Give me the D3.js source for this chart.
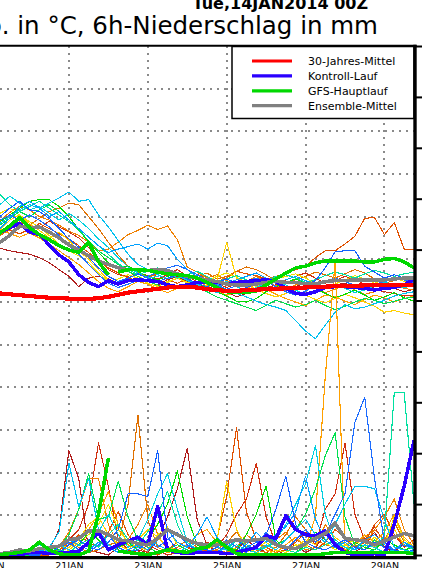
<!DOCTYPE html>
<html lang="de">

<head>
  <meta charset="utf-8">
  <title>GFS Ensemble</title>
  <script src="https://d3js.org/d3.v7.min.js" charset="utf-8"></script>
  <style type="text/css">
    html, body { margin: 0; padding: 0; background: #fff; overflow: hidden; }
    svg { display: block; }
  </style>
</head>

<body>
  <svg id="chart" width="422" height="568" xmlns="http://www.w3.org/2000/svg"></svg>
  <script type="text/javascript">
    // 6-hourly steps, step 0 = 19JAN (everything before is cut off on the left)
    var tickSteps = [-16, -8, 0, 8, 16, 24, 32, 40];
    var tickLabels = ['15JAN', '17JAN', '19JAN', '21JAN', '23JAN', '25JAN', '27JAN', '29JAN'];
    var tempTicks = [-35, -30, -25, -20, -15, -10, -5, 0, 5, 10, 15, 20, 25];
    var precipTicks = [0, 2, 4, 6, 8, 10, 12, 14, 16, 18, 20];
    var mainBreak = 12; // GFS run has a gap at the resolution change

    var legendNames = ['30-Jahres-Mittel', 'Kontroll-Lauf', 'GFS-Hauptlauf', 'Ensemble-Mittel'];
    var legendColors = ['#ff0000', '#2a00ff', '#00d800', '#808080'];

    var climTemp = [-3.9, -4.0, -4.1, -4.2, -4.3, -4.4, -4.5, -4.55, -4.6, -4.65, -4.65,
      -4.55, -4.4, -4.15, -3.9, -3.75, -3.6, -3.45, -3.3, -3.2, -3.25,
      -3.3, -3.5, -3.6, -3.7, -3.7, -3.6, -3.55, -3.5, -3.45, -3.4,
      -3.35, -3.3, -3.25, -3.2, -3.15, -3.1, -3.1, -3.05, -3.0, -3.0, -3.0, -3.0, -3.0];
    var controlTemp = [3.2, 3.1, 3.7, 4.2, 3.2, 2.9, 1.7, 0.5, -0.3, -1.8, -2.7,
      -3.2, -2.5, -2.9, -2.5, -2.4, -2.5, -2.6, -3.0, -3.2, -3.0,
      -2.7, -2.7, -2.7, -2.9, -2.7, -2.6, -2.5, -2.4, -2.6, -3.4,
      -4.0, -4.1, -3.8, -3.3, -3.2, -3.2, -3.3, -3.4, -3.6, -3.4, -3.3, -3.0, -2.3];
    var mainTemp = [3.1, 3.1, 3.9, 4.9, 3.7, 2.9, 2.3, 1.6, 1.1, 0.8, 2.0,
      -0.3, -1.8, -1.5, -1.2, -1.2, -1.3, -1.5, -1.7, -1.8, -1.9,
      -2.2, -2.7, -3.3, -3.8, -3.9, -3.9, -3.7, -3.0, -2.3, -1.6,
      -1.0, -0.8, -0.4, -0.2, -0.2, -0.2, -0.2, -0.3, -0.3, 0.0, 0.1, -0.3, -1.0];
    var meanTemp = [1.7, 2.0, 2.8, 3.9, 3.7, 3.8, 3.2, 2.5, 1.7, 1.1, 0.4,
      -0.2, -0.6, -1.0, -1.2, -1.2, -1.3, -1.2, -1.3, -1.7, -2.0,
      -2.2, -2.4, -2.6, -2.9, -3.0, -3.0, -2.9, -2.7, -2.6, -2.7,
      -2.7, -2.9, -2.9, -2.6, -2.5, -2.5, -2.4, -2.4, -2.4, -2.4, -2.3, -2.2, -2.2];

    var controlPrecip = [0.05, 0, 0, 0, 0.1, 0.1, 0.05, 0.1, 0.1, 0.15, 0.5,
      0.9, 0.2, 0.4, 0.55, 0.7, 0.4, 1.9, 0.2, 0.1, 0.05,
      0.1, 0.1, 0.1, 0.05, 0.1, 0.2, 0.3, 0.75, 0.65, 1.55,
      1.0, 0.8, 0.75, 0.95, 0.4, 0.1, 0, 0, 0.05, 0, 1.2, 2.7, 4.5];
    var mainPrecip = [0, 0.02, 0.05, 0.1, 0.2, 0.5, 0.2, 0.05, 0, 0, 0.15,
      1.6, 3.8, 0.15, 0.1, 0.05, 0.02, 0.1, 0.2, 0.15, 0.1,
      0.25, 0.3, 0.6, 0.3, 0.05, 0, 0, 0, 0, 0,
      0, 0, 0, 0.05, 0.1, 0.1, 0.1, 0.1, 0.1, 0.1, 0.1, 0.1, 0.05];
    var meanPrecip = [0.05, 0.05, 0.1, 0.2, 0.15, 0.25, 0.3, 0.35, 0.6, 0.65, 0.95,
      0.95, 0.8, 0.6, 0.55, 0.45, 0.4, 0.65, 1.0, 0.8, 0.6,
      0.45, 0.4, 0.4, 0.5, 0.6, 0.55, 0.6, 0.65, 0.4, 0.3,
      0.25, 0.45, 0.65, 0.85, 1.25, 0.65, 0.6, 0.55, 0.4, 0.55, 0.7, 0.85, 0.75];

    var memberColors = ['#b01c1c', '#d03010', '#e05000', '#f08000', '#e07000', '#ffa000', '#ffd000', '#f0e000',
      '#00dc00', '#00e050', '#00e0a0', '#00c0f0', '#00d0e0', '#00a0ff', '#1060ff', '#1c6cff'];

    var memberTemp = [
      [1.5, 1.3, 1.0, 0.8, 0.6, 0.2, -0.4, -1.2, -2.0, -3.2, -2.2, -2.0, -2.3, -2.8, -2.5, -2.2, -2.6, -3.0, -2.4, -2.0, -2.6, -3.4, -3.0, -3.2, -3.8, -4.4, -4.0, -3.6, -3.3, -3.0, -3.5, -3.2, -2.7, -3.0, -3.4, -3.0, -2.8, -3.3, -3.6, -3.2, -2.9, -3.4, -3.8, -3.5],
      [3.0, 3.4, 3.8, 4.3, 4.0, 3.6, 4.5, 3.8, 3.2, 2.5, 1.4, 0.0, -1.2, -1.8, -2.0, -1.6, -1.9, -2.3, -1.8, -1.2, -2.0, -2.6, -2.2, -2.8, -3.3, -2.9, -2.5, -3.0, -3.4, -3.0, -2.4, -2.0, -1.6, -2.2, -2.8, -2.5, -2.0, -2.4, -2.9, -3.5, -3.8, -4.0, -4.3, -4.2],
      [2.6, 2.9, 3.4, 3.0, 3.5, 4.2, 3.6, 3.0, 2.4, 1.6, 0.8, -0.2, -1.0, -1.6, -2.2, -2.5, -2.0, -1.8, -2.4, -2.8, -2.3, -1.8, -2.1, -2.6, -2.2, -1.4, -1.7, -1.9, -2.3, -2.0, -1.6, -1.2, -0.8, 0.2, 1.0, 1.0, 1.8, 2.7, 4.8, 4.9, 2.9, 4.3, 1.2, 1.2],
      [3.8, 4.5, 5.5, 6.2, 5.8, 5.0, 4.6, 4.0, 3.3, 2.8, 2.0, 1.0, 1.2, 2.0, 2.9, 3.4, 4.0, 3.5, 3.9, 2.3, -0.9, -1.5, -2.2, -1.8, -2.5, -3.0, -2.6, -2.0, -2.6, -3.1, -3.6, -3.0, -2.5, -3.2, -3.9, -3.5, -3.0, -3.6, -4.1, -3.8, -3.3, -3.0, -3.4, -3.6],
      [2.2, 2.8, 3.5, 4.4, 4.0, 4.8, 5.6, 6.0, 6.6, 6.4, 5.0, 3.6, 2.0, 0.5, -0.8, -1.5, -2.1, -1.7, -1.3, -1.9, -2.4, -2.0, -1.6, -2.3, -2.0, -1.4, -0.9, -1.2, -1.8, -2.5, -2.9, -2.4, -2.0, -1.5, -1.8, -2.2, -1.7, -1.2, -1.6, -2.3, -2.8, -2.5, -2.2, -2.6],
      [3.2, 3.6, 3.0, 2.6, 3.1, 2.5, 1.8, 1.0, 0.2, -0.6, -1.6, -2.6, -3.4, -3.8, -3.2, -2.6, -2.9, -3.5, -3.9, -3.4, -2.8, -2.6, -3.1, -3.7, -4.2, -3.9, -3.4, -3.0, -3.5, -4.1, -4.6, -5.0, -5.4, -4.8, -4.2, -4.4, -4.9, -5.3, -4.7, -4.2, -4.5, -5.0, -4.6, -4.3],
      [4.0, 3.4, 4.6, 5.2, 4.2, 3.4, 2.5, 3.2, 2.2, 1.0, 0.0, -1.2, -2.4, -3.0, -2.6, -2.0, -2.5, -3.1, -2.7, -2.2, -2.8, -3.4, -3.0, -2.6, 2.0, -2.2, -3.0, -3.5, -4.0, -4.4, -4.0, -3.6, -4.2, -4.7, -5.1, -4.6, -4.1, -4.5, -5.0, -5.5, -6.2, -6.0, -6.3, -6.5],
      [4.6, 5.4, 6.0, 5.2, 4.4, 3.8, 2.8, 1.8, 1.0, 0.4, -0.4, -1.6, -2.6, -2.3, -1.8, -2.2, -2.8, -3.2, -2.6, -2.2, -2.7, -3.1, -2.6, -2.0, -1.6, -2.1, -2.7, -3.2, -2.8, -2.3, -2.0, -1.7, -2.2, -2.8, -3.3, -2.9, -2.4, -1.9, -2.3, -2.8, -2.4, -2.1, -2.6, -3.0],
      [3.6, 4.4, 5.2, 6.0, 6.8, 7.0, 7.0, 6.2, 5.0, 3.5, 2.0, 0.8, -0.4, -1.0, -0.8, -1.4, -2.0, -2.4, -2.0, -1.6, -2.2, -2.9, -3.3, -3.8, -4.3, -4.9, -5.0, -4.6, -3.8, -3.2, -2.7, -2.3, -2.8, -3.4, -4.0, -4.5, -4.1, -3.6, -4.2, -4.8, -4.4, -3.9, -4.5, -4.9],
      [3.0, 4.0, 4.8, 5.6, 5.0, 5.8, 6.4, 5.6, 4.6, 3.4, 2.2, 1.0, 0.2, -0.6, -1.4, -2.0, -2.6, -3.0, -3.5, -3.2, -2.8, -3.3, -3.8, -4.4, -4.8, -5.2, -5.6, -6.0, -5.4, -4.8, -5.2, -5.6, -5.3, -4.8, -5.4, -5.9, -5.5, -5.0, -4.6, -4.8, -5.2, -4.9, -4.6, -4.4],
      [6.0, 7.6, 6.4, 5.6, 6.2, 6.8, 6.0, 5.2, 4.4, 3.6, 2.6, 1.6, 0.6, -0.5, -1.2, -1.8, -1.4, -1.0, -1.6, -2.2, -1.8, -1.4, -2.0, -2.6, -2.3, -1.9, -2.4, -2.9, -2.5, -2.0, -1.8, -2.2, -2.7, -2.4, -1.9, -1.5, -1.8, -2.2, -1.7, -1.3, -1.6, -2.0, -1.7, -1.5],
      [3.4, 4.2, 5.0, 5.8, 6.4, 6.0, 6.6, 7.2, 7.9, 6.8, 7.0, 5.2, 3.8, 2.2, 0.6, -0.6, -1.2, -1.8, -2.3, -1.9, -2.5, -3.0, -3.4, -3.9, -3.5, -4.0, -4.4, -4.9, -5.3, -5.6, -6.0, -7.2, -8.4, -9.3, -7.7, -6.2, -5.3, -5.8, -5.6, -5.2, -4.8, -4.3, -4.0, -3.8],
      [5.0, 6.4, 7.4, 6.6, 5.8, 6.2, 5.4, 4.6, 5.4, 4.6, 3.6, 2.4, 1.4, 0.2, -0.9, -1.6, -2.2, -2.0, -1.5, -1.9, -2.4, -2.9, -3.5, -3.0, -2.6, -3.2, -3.7, -3.3, -2.8, -2.5, -3.0, -3.6, -4.2, -3.8, -3.3, -2.9, -3.4, -3.9, -3.6, -3.1, -2.7, -2.9, -3.3, -3.1],
      [4.2, 3.6, 4.8, 6.2, 6.8, 6.0, 5.0, 5.6, 4.6, 3.6, 2.6, 1.6, 0.8, 1.2, 1.5, 1.8, 1.2, 1.9, 1.6, 0.0, -1.2, -2.0, -2.6, -3.2, -2.8, -2.4, -2.0, -1.6, -2.2, -2.7, -2.4, -2.0, -2.5, -3.0, -2.7, -2.2, -2.6, -3.1, -3.4, -3.0, -2.6, -2.3, -2.0, -2.2],
      [4.0, 5.0, 6.0, 6.8, 5.8, 5.6, 4.8, 3.6, 2.4, 1.4, 0.2, -1.0, -2.0, -2.6, -2.2, -1.7, -2.2, -2.6, -2.2, -1.8, -2.3, -2.8, -3.2, -2.7, -2.3, -2.8, -3.3, -2.9, -2.5, -2.8, -3.2, -3.5, -3.0, -2.5, -1.0, 0.9, 1.0, 1.0, -0.8, -1.5, -2.2, -1.8, -2.2, -2.5],
      [3.8, 4.6, 5.2, 4.6, 5.2, 4.6, 3.8, 2.8, 1.6, 0.6, -0.6, -1.8, -2.8, -3.3, -2.9, -2.5, -2.0, -1.5, -1.0, -0.7, -1.2, -1.8, -2.4, -3.0, -3.5, -3.1, -2.6, -2.2, -2.6, -3.2, -3.8, -4.2, -3.7, -3.1, -2.6, -2.2, -2.6, -3.0, -3.4, -3.0, -2.5, -2.1, -2.4, -2.8]
    ];

    var memberPrecip = [
      [0, 0, 0, 0.1, 0.1, 0, 0.2, 1.0, 4.1, 3.0, 0.2, 0.1, 0, 0.3, 0.5, 0.2, 0.1, 0.6, 1.5, 2.6, 4.2, 1.4, 0.4, 0.1, 0, 0.2, 0.6, 0.3, 0.1, 0, 0.2, 0.4, 0.1, 0.3, 0.8, 0.5, 0.2, 0.1, 0.4, 0.9, 0.3, 0.1, 0.5, 0.2],
      [0.1, 0, 0, 0, 0, 0.2, 0.1, 0.3, 0.6, 1.0, 2.0, 4.4, 2.7, 0.6, 0.2, 0.1, 0.4, 0.2, 0, 0.1, 0.3, 0.2, 0.5, 0.3, 0.8, 1.6, 2.2, 3.6, 1.5, 0.4, 0.2, 0.5, 0.9, 0.4, 1.8, 2.4, 4.4, 1.6, 0.6, 1.1, 0.5, 0.8, 0.3, 0.6],
      [0, 0, 0.1, 0, 0.1, 0, 0, 0.2, 0.4, 0.8, 0.5, 0.3, 0.9, 1.7, 0.8, 0.3, 0.1, 0, 0.2, 0.5, 0.3, 0.1, 0.2, 0.6, 2.3, 5.0, 1.7, 0.6, 0.3, 0.1, 0.2, 0.6, 0.4, 0.2, 0.5, 1.0, 0.7, 0.3, 0.5, 1.2, 1.6, 0.8, 0.4, 0.3],
      [0, 0, 0, 0.1, 0.2, 0.1, 0, 0.3, 0.9, 1.8, 3.0, 3.0, 1.2, 0.4, 0.6, 1.2, 2.0, 0.8, 0.2, 0.1, 0, 0.2, 0.4, 0.2, 0.1, 0.3, 0.8, 0.5, 0.3, 0.6, 0.9, 0.4, 0.2, 0.3, 1.2, 0.6, 0.3, 0.2, 0.4, 1.0, 1.5, 2.2, 1.0, 0.4],
      [0, 0, 0, 0, 0.1, 0, 0.1, 0.2, 0.5, 0.3, 0.1, 0.2, 0.4, 0.5, 2.0, 5.5, 1.4, 0.3, 0.1, 0.3, 0.6, 0.3, 0.1, 0.2, 0.5, 0.9, 0.4, 0.2, 0.1, 0.3, 0.8, 1.5, 1.0, 0.6, 0.4, 0.3, 0.2, 0.4, 0.7, 1.0, 0.6, 1.3, 0.5, 0.2],
      [0, 0, 0, 0, 0, 0.1, 0.2, 0.1, 0.3, 0.6, 1.0, 1.6, 2.5, 1.2, 0.4, 0.2, 0.5, 0.3, 0.1, 0.2, 0.4, 0.8, 1.0, 0.5, 0.2, 0.1, 0.3, 0.5, 0.2, 0.1, 0.4, 0.7, 0.3, 1.5, 7.0, 11.5, 0.2, 0.4, 0.8, 0.5, 0.9, 1.6, 0.7, 0.3],
      [0, 0, 0.1, 0.1, 0, 0, 0.2, 0.4, 0.3, 0.6, 1.2, 1.5, 0.8, 0.4, 0.2, 0.6, 1.0, 0.7, 0.3, 0.2, 0.1, 0.3, 0.2, 0.5, 2.9, 1.0, 0.3, 0.1, 0, 0.2, 0.1, 0.3, 0.6, 0.4, 1.0, 0.7, 0.4, 0.2, 0.6, 0.3, 0.5, 1.0, 0.4, 0.2],
      [0, 0.1, 0, 0, 0.1, 0.3, 0.1, 0, 0.2, 0.5, 0.8, 1.2, 2.0, 1.0, 0.5, 0.3, 0.2, 0.8, 1.1, 0.4, 0.2, 0.1, 0.3, 0.6, 0.4, 0.2, 0.1, 0.3, 0.5, 0.2, 0.1, 0.4, 0.3, 0.8, 0.5, 0.2, 0.4, 0.6, 0.3, 0.7, 0.4, 1.5, 0.6, 0.3],
      [0, 0, 0, 0.1, 0, 0.1, 0.3, 0.2, 0.1, 0.4, 0.9, 0.6, 0.2, 0.3, 0.5, 0.2, 0.6, 1.2, 2.0, 3.3, 1.5, 0.4, 0.2, 0.1, 0.3, 0.2, 0.8, 1.6, 2.7, 0.6, 0.2, 0.1, 0.4, 0.9, 0.6, 0.3, 0.1, 0.5, 0.3, 0.2, 0.6, 0.4, 0.2, 0.3],
      [0, 0, 0.1, 0, 0, 0.2, 0.1, 0.3, 0.8, 1.8, 3.2, 1.4, 1.5, 2.9, 1.5, 0.6, 0.3, 0.1, 0.2, 0.4, 0.2, 0.1, 0.3, 0.6, 0.2, 0.1, 0.3, 0.5, 0.8, 0.4, 0.6, 1.0, 1.6, 2.6, 3.9, 4.8, 1.5, 0.4, 0.2, 0.6, 0.3, 0.2, 0.5, 0.2],
      [0, 0, 0, 0.1, 0.2, 0.1, 0, 0.2, 0.1, 0.4, 0.6, 0.3, 0.8, 1.2, 0.6, 0.4, 0.9, 1.6, 2.5, 1.2, 0.4, 0.2, 0.1, 0.3, 0.2, 0.6, 0.4, 0.2, 0.3, 0.5, 0.2, 0.1, 0.3, 0.2, 0.4, 0.6, 0.3, 0.1, 0.1, 0.2, 0.8, 6.4, 6.4, 2.0],
      [0, 0, 0.1, 0, 0.2, 0.4, 0.3, 0.9, 3.6, 1.9, 3.0, 1.0, 0.4, 0.2, 0.1, 0.3, 0.6, 0.4, 0.2, 0.1, 0.3, 0.5, 0.2, 0.1, 0.3, 0.6, 0.3, 0.2, 0.4, 0.2, 0.6, 1.0, 1.4, 0.8, 0.5, 1.2, 2.0, 2.7, 2.7, 2.6, 1.4, 0.3, 0.2, 0.1],
      [0, 0, 0, 0.1, 0, 0.1, 0.2, 0.4, 0.2, 0.1, 0.5, 0.9, 1.6, 0.8, 0.3, 0.6, 1.4, 2.4, 3.2, 1.8, 0.5, 0.2, 0.1, 0.3, 0.2, 0.4, 0.2, 0.1, 0.3, 0.6, 1.2, 2.0, 2.8, 4.3, 1.6, 0.5, 0.3, 0.2, 0.4, 0.3, 0.1, 0.2, 0.4, 0.2],
      [0, 0, 0, 0, 0.1, 0.2, 0.1, 0.3, 0.6, 0.4, 0.2, 0.5, 0.3, 0.1, 0.2, 0.4, 0.2, 0.6, 1.0, 0.5, 0.3, 0.8, 1.5, 0.7, 0.3, 0.1, 0.4, 0.9, 0.5, 0.8, 1.1, 1.7, 3.1, 1.4, 0.6, 0.3, 0.5, 0.2, 0.6, 0.8, 0.4, 0.2, 0.5, 0.3],
      [0, 0, 0.1, 0.1, 0, 0, 0.2, 0.1, 0.4, 0.6, 0.3, 0.2, 0.5, 1.0, 2.4, 2.4, 2.3, 4.1, 0.7, 0.2, 0.1, 0.3, 0.2, 0.1, 0.4, 0.6, 0.3, 0.5, 0.8, 1.8, 3.1, 1.2, 0.5, 0.3, 0.2, 0.4, 0.6, 0.3, 0.2, 0.5, 0.3, 0.2, 0.1, 0.2],
      [0, 0, 0, 0.1, 0.2, 0.1, 0, 0.3, 0.5, 0.2, 0.1, 0.4, 0.8, 0.3, 0.1, 0.2, 0.5, 0.3, 0.6, 0.9, 0.4, 0.2, 0.1, 0.3, 0.6, 0.3, 0.1, 0.4, 0.9, 0.5, 0.2, 0.6, 1.0, 0.5, 0.8, 1.6, 2.4, 5.2, 6.2, 3.0, 0.5, 0.2, 0.4, 0.3]
    ];

    var svg = d3.select('#chart');
    var plot = { left: -217, right: 414, top: 46, bottom: 558 };

    var x = d3.scaleLinear().domain([-21, 43]).range([plot.left, plot.right]);
    var yT = d3.scaleLinear().domain([-35, 25]).range([plot.bottom, plot.top]);
    var yP = d3.scaleLinear().domain([0, 20]).range([555, plot.top]);

    svg.append('rect').attr('width', 422).attr('height', 568).attr('fill', '#fff');

    svg.append('defs').append('clipPath').attr('id', 'plotClip')
      .append('rect')
      .attr('x', plot.left)
      .attr('y', plot.top)
      .attr('width', plot.right - plot.left)
      .attr('height', plot.bottom - plot.top);

    // dotted grid
    var grid = svg.append('g')
      .attr('stroke', '#8a8a8a')
      .attr('stroke-width', 1.6)
      .attr('stroke-dasharray', '2,5')
      .attr('shape-rendering', 'crispEdges');
    grid.selectAll('line.h')
      .data(tempTicks.slice(1, -1))
      .enter().append('line')
      .attr('class', 'h')
      .attr('x1', plot.left).attr('x2', plot.right)
      .attr('y1', function(d) { return Math.round(yT(d)); })
      .attr('y2', function(d) { return Math.round(yT(d)); });
    grid.selectAll('line.v')
      .data(tickSteps)
      .enter().append('line')
      .attr('class', 'v')
      .attr('x1', function(d) { return Math.round(x(d)); })
      .attr('x2', function(d) { return Math.round(x(d)); })
      .attr('y1', plot.top).attr('y2', plot.bottom);

    function series(values, start) {
      return values.map(function(v, i) { return { step: start + i, value: v }; });
    }

    function drawLine(layer, data, scale, color, width) {
      var line = d3.line()
        .x(function(d) { return x(d.step); })
        .y(function(d) { return scale(d.value); });
      layer.append('path')
        .datum(data)
        .attr('d', line)
        .attr('fill', 'none')
        .attr('stroke', color)
        .attr('stroke-width', width)
        .attr('stroke-linejoin', 'round')
        .attr('shape-rendering', 'crispEdges');
    }

    var lines = svg.append('g').attr('clip-path', 'url(#plotClip)');

    memberTemp.forEach(function(vals, i) {
      drawLine(lines, series(vals, 0), yT, memberColors[i], 1.1);
    });
    memberPrecip.forEach(function(vals, i) {
      drawLine(lines, series(vals, 0), yP, memberColors[i], 1.1);
    });

    drawLine(lines, series(controlTemp, 0), yT, legendColors[1], 3.5);
    drawLine(lines, series(controlPrecip, 0), yP, legendColors[1], 3.5);
    drawLine(lines, series(meanTemp, 0), yT, legendColors[3], 3.5);
    drawLine(lines, series(meanPrecip, 0), yP, legendColors[3], 3.5);
    drawLine(lines, series(mainTemp.slice(0, mainBreak + 1), 0), yT, legendColors[2], 3.5);
    drawLine(lines, series(mainTemp.slice(mainBreak + 1), mainBreak + 1), yT, legendColors[2], 3.5);
    drawLine(lines, series(mainPrecip.slice(0, mainBreak + 1), 0), yP, legendColors[2], 3.5);
    drawLine(lines, series(mainPrecip.slice(mainBreak + 1), mainBreak + 1), yP, legendColors[2], 3.5);
    drawLine(lines, series(climTemp, 0), yT, legendColors[0], 4.2);

    // legend
    var legend = svg.append('g');
    legend.append('rect')
      .attr('x', 232).attr('y', 46.5)
      .attr('width', 182).attr('height', 72)
      .attr('fill', '#fff')
      .attr('stroke', '#000')
      .attr('stroke-width', 1.5);
    legendNames.forEach(function(name, i) {
      var cy = 61 + i * 14.9;
      legend.append('line')
        .attr('x1', 252).attr('x2', 292)
        .attr('y1', cy).attr('y2', cy)
        .attr('stroke', legendColors[i])
        .attr('stroke-width', 3.2);
      legend.append('text')
        .attr('x', 308).attr('y', cy + 4)
        .attr('font-family', 'DejaVu Sans')
        .attr('font-size', '11px')
        .attr('fill', '#000')
        .text(name);
    });

    // frame
    svg.append('line')
      .attr('x1', plot.left).attr('x2', 416.5)
      .attr('y1', 45.8).attr('y2', 45.8)
      .attr('stroke', '#000').attr('stroke-width', 2);
    svg.append('line')
      .attr('x1', plot.left).attr('x2', 416.5)
      .attr('y1', 557.6).attr('y2', 557.6)
      .attr('stroke', '#000').attr('stroke-width', 3.2);
    svg.append('line')
      .attr('x1', 415).attr('x2', 415)
      .attr('y1', 44.8).attr('y2', 559.2)
      .attr('stroke', '#000').attr('stroke-width', 3.4);

    // right precip axis, labels fall just outside the window as in the original crop
    var yAxis = d3.axisRight(yP)
      .tickValues(precipTicks)
      .tickSize(6)
      .tickPadding(2)
      .tickFormat(d3.format('d'));
    svg.append('g')
      .attr('transform', 'translate(416,0)')
      .call(yAxis)
      .call(function(g) { g.select('.domain').remove(); })
      .call(function(g) {
        g.selectAll('.tick line').attr('stroke', '#000').attr('stroke-width', 2);
        g.selectAll('.tick text').attr('font-family', 'DejaVu Sans').attr('font-size', '12px').attr('fill', '#000');
      });

    // bottom date axis
    var xAxis = d3.axisBottom(x)
      .tickValues(tickSteps)
      .tickSize(0)
      .tickPadding(4.5)
      .tickFormat(function(d, i) { return tickLabels[i]; });
    svg.append('g')
      .attr('transform', 'translate(0,' + plot.bottom + ')')
      .call(xAxis)
      .call(function(g) { g.select('.domain').remove(); })
      .call(function(g) {
        g.selectAll('.tick text').attr('font-family', 'DejaVu Sans').attr('font-size', '9.5px').attr('fill', '#000');
      });

    // titles
    svg.append('text')
      .attr('x', 368).attr('y', 9)
      .attr('text-anchor', 'end')
      .attr('font-family', 'DejaVu Sans')
      .attr('font-weight', 'bold')
      .attr('font-size', '16px')
      .attr('fill', '#000')
      .text('Tue,14JAN2014 00Z');
    svg.append('text')
      .attr('x', 378).attr('y', 33.5)
      .attr('text-anchor', 'end')
      .attr('font-family', 'DejaVu Sans')
      .attr('font-size', '24.5px')
      .attr('fill', '#000')
      .text('850 hPa Temp. in °C, 6h-Niederschlag in mm');
  </script>
</body>

</html>
